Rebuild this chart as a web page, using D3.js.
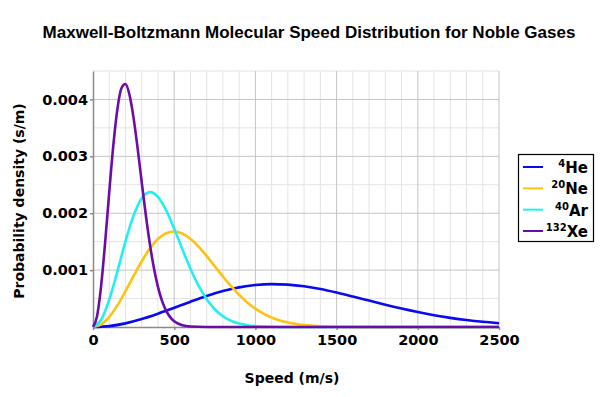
<!DOCTYPE html>
<html>
<head>
<meta charset="utf-8">
<script src="https://cdn.jsdelivr.net/npm/d3@7"></script>
<style>
  html, body { margin: 0; padding: 0; background: #fff; }
  svg { display: block; font-family: "DejaVu Sans", sans-serif; }
</style>
</head>
<body>
<svg id="chart"></svg>
<script>
const width = 600;
const height = 397;

// Densities are in units of 0.001 s/m
const heSpeed = [0, 100, 200, 300, 400, 500, 600, 700, 800, 900, 1000, 1100, 1200, 1300,
  1400, 1500, 1600, 1700, 1800, 1900, 2000, 2100, 2200, 2300, 2400, 2500];
const heDensity = [0, 0.016, 0.064, 0.139, 0.233, 0.338, 0.445, 0.546, 0.632, 0.697, 0.738,
  0.754, 0.745, 0.715, 0.667, 0.605, 0.536, 0.464, 0.392, 0.324, 0.262, 0.207, 0.161,
  0.122, 0.091, 0.067];

const neSpeed = [0, 50, 100, 150, 200, 250, 300, 350, 400, 450, 500, 550, 600, 650, 700,
  750, 800, 850, 900, 950, 1000, 1050, 1100, 1150, 1200, 1300, 1400, 1500, 1600, 2500];
const neDensity = [0, 0.046, 0.178, 0.380, 0.629, 0.897, 1.156, 1.379, 1.548, 1.649, 1.680,
  1.643, 1.550, 1.412, 1.246, 1.067, 0.887, 0.717, 0.564, 0.432, 0.323, 0.235, 0.167,
  0.116, 0.078, 0.033, 0.013, 0.005, 0.002, 0];

const arSpeed = [0, 50, 100, 150, 200, 250, 300, 350, 400, 450, 500, 550, 600, 650, 700,
  750, 800, 850, 900, 950, 1000, 1100, 1200, 2500];
const arDensity = [0, 0.127, 0.480, 0.976, 1.506, 1.962, 2.263, 2.370, 2.287, 2.054, 1.728,
  1.369, 1.025, 0.726, 0.488, 0.312, 0.190, 0.110, 0.061, 0.032, 0.016, 0.004, 0.001, 0];

const xeSpeed = [0, 25, 50, 75, 100, 125, 150, 175, 200, 225, 250, 275, 300, 325, 350, 375,
  400, 425, 450, 475, 500, 550, 600, 700, 2500];
const xeDensity = [0, 0.190, 0.723, 1.497, 2.370, 3.189, 3.826, 4.196, 4.272, 4.077, 3.671,
  3.134, 2.545, 1.973, 1.461, 1.036, 0.705, 0.460, 0.288, 0.174, 0.101, 0.030, 0.008, 0, 0];

const gasMass = ["4", "20", "40", "132"];
const gasName = ["He", "Ne", "Ar", "Xe"];
const gasColor = ["#0a0af2", "#ffc20e", "#20f0f0", "#6c0ca8"];

const xTicks = [0, 500, 1000, 1500, 2000, 2500];
const yTicks = [1, 2, 3, 4];

const series = [
  { speed: heSpeed, density: heDensity },
  { speed: neSpeed, density: neDensity },
  { speed: arSpeed, density: arDensity },
  { speed: xeSpeed, density: xeDensity },
].map((s, i) => ({
  mass: gasMass[i], name: gasName[i], color: gasColor[i],
  points: s.speed.map((v, j) => ({ v, f: s.density[j] })),
}));

const svg = d3.select("#chart")
  .attr("width", width)
  .attr("height", height);

const x = d3.scaleLinear().domain([0, 2500]).range([93, 499]);
const y = d3.scaleLinear().domain([0, 4.5]).range([327, 71]);

// ----- GRID -----
const grid = svg.append("g");

grid.selectAll(".minor-x")
  .data(d3.range(100, 2500, 100).filter(d => d % 500 !== 0))
  .join("line")
  .attr("x1", d => x(d)).attr("x2", d => x(d))
  .attr("y1", y(0)).attr("y2", y(4.5))
  .attr("stroke", "#e3e3e3").attr("stroke-width", 1);

grid.selectAll(".minor-y")
  .data([0.5, 1.5, 2.5, 3.5, 4.5])
  .join("line")
  .attr("x1", x(0)).attr("x2", x(2500))
  .attr("y1", d => y(d)).attr("y2", d => y(d))
  .attr("stroke", "#e3e3e3").attr("stroke-width", 1);

grid.selectAll(".major-x")
  .data(xTicks.slice(1))
  .join("line")
  .attr("x1", d => x(d)).attr("x2", d => x(d))
  .attr("y1", y(0)).attr("y2", y(4.5))
  .attr("stroke", "#c4c4c4").attr("stroke-width", 1);

grid.selectAll(".major-y")
  .data(yTicks)
  .join("line")
  .attr("x1", x(0)).attr("x2", x(2500))
  .attr("y1", d => y(d)).attr("y2", d => y(d))
  .attr("stroke", "#c4c4c4").attr("stroke-width", 1);

// ----- AXES -----
const xAxis = svg.append("g")
  .attr("transform", `translate(0,${y(0)})`)
  .call(d3.axisBottom(x).tickValues(xTicks).tickSize(3).tickSizeOuter(0).tickPadding(5)
    .tickFormat(d3.format("d")));

const yAxis = svg.append("g")
  .attr("transform", `translate(${x(0)},0)`)
  .call(d3.axisLeft(y).tickValues(yTicks).tickSize(3).tickSizeOuter(0).tickPadding(2)
    .tickFormat(d => (d / 1000).toFixed(3)));

[xAxis, yAxis].forEach(a => {
  a.select(".domain").attr("stroke", "#8a8a8a").attr("stroke-width", 1.5);
  a.selectAll(".tick line").attr("stroke", "#8a8a8a").attr("stroke-width", 1.5);
  a.selectAll(".tick text")
    .attr("fill", "#000")
    .style("font-family", '"DejaVu Sans", sans-serif')
    .style("font-size", "14.5px")
    .style("font-weight", "bold");
});

// ----- CURVES -----
const line = d3.line()
  .x(d => x(d.v))
  .y(d => y(d.f))
  .curve(d3.curveMonotoneX);

svg.append("g")
  .selectAll("path")
  .data(series)
  .join("path")
  .attr("fill", "none")
  .attr("stroke", d => d.color)
  .attr("stroke-width", 2.6)
  .attr("stroke-linejoin", "round")
  .attr("d", d => line(d.points));

// ----- TITLES -----
svg.append("text")
  .attr("x", 309).attr("y", 38)
  .attr("text-anchor", "middle")
  .style("font-family", '"Liberation Sans", Arial, sans-serif')
  .style("font-size", "17px").style("font-weight", "bold")
  .text("Maxwell-Boltzmann Molecular Speed Distribution for Noble Gases");

svg.append("text")
  .attr("x", 292).attr("y", 383)
  .attr("text-anchor", "middle")
  .style("font-size", "14px").style("font-weight", "bold")
  .text("Speed (m/s)");

svg.append("text")
  .attr("transform", "translate(24,201) rotate(-90)")
  .attr("text-anchor", "middle")
  .style("font-size", "14px").style("font-weight", "bold")
  .text("Probability density (s/m)");

// ----- LEGEND -----
const legend = svg.append("g");

legend.append("rect")
  .attr("x", 518.5).attr("y", 154.5)
  .attr("width", 75).attr("height", 87)
  .attr("fill", "#fff")
  .attr("stroke", "#000").attr("stroke-width", 1.2);

const rowY = d3.scalePoint().domain(gasName).range([167, 231]);

const rows = legend.selectAll(".row")
  .data(series)
  .join("g")
  .attr("transform", d => `translate(0,${rowY(d.name)})`);

rows.append("line")
  .attr("x1", 523).attr("x2", 543)
  .attr("stroke", d => d.color).attr("stroke-width", 2);

const label = rows.append("text")
  .attr("x", 588).attr("y", 6)
  .attr("text-anchor", "end")
  .style("font-weight", "bold");

label.append("tspan")
  .style("font-size", "10px")
  .attr("dy", -6)
  .text(d => d.mass);

label.append("tspan")
  .style("font-size", "15px")
  .attr("dy", 6)
  .text(d => d.name);
</script>
</body>
</html>
